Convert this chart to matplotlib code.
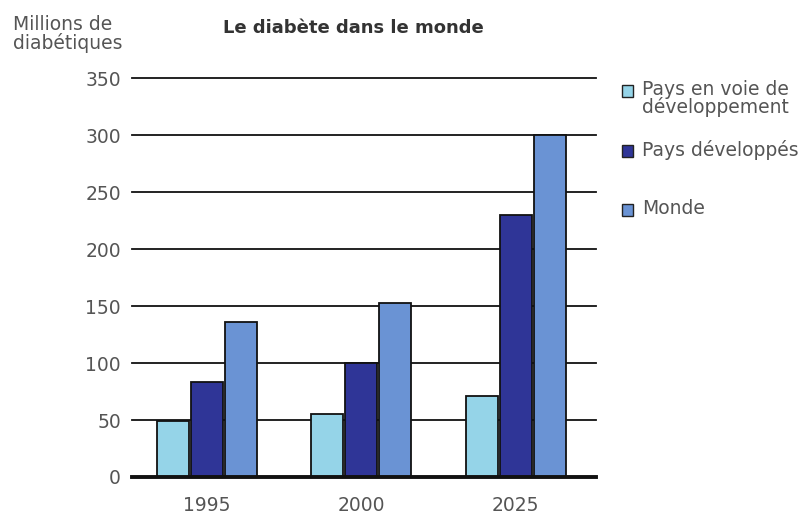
import matplotlib
matplotlib.use("Agg")
import matplotlib.pyplot as plt
import numpy as np
from matplotlib.patches import Rectangle

years = ["1995", "2000", "2025"]
series_names = ["Pays en voie de\ndéveloppement", "Pays développés", "Monde"]
pays_en_voie = [49, 55, 71]
pays_dev = [83, 100, 230]
monde = [136, 153, 300]
yticks = [0, 50, 100, 150, 200, 250, 300, 350]

colors = ["#95d4e8", "#2f3597", "#6a93d4"]
txt = "#555555"
plt.rcParams['font.family'] = ['DejaVu Sans']
fs = 13.5

fig = plt.figure(figsize=(8.04, 5.17), dpi=100)
ax = fig.add_axes([132/804, 1-477/517, (596-132)/804, (477-78)/517])

x = np.arange(len(years))
w = 0.207
step = 0.22
for i, vals in enumerate([pays_en_voie, pays_dev, monde]):
    ax.bar(x + (i-1)*step, vals, width=w, color=colors[i], edgecolor="#111111",
           linewidth=1.3, zorder=3)

for t in yticks[1:]:
    ax.axhline(t, color="#111111", linewidth=1.3, zorder=1, clip_on=False)
ax.axhline(0, color="#111111", linewidth=2.8, zorder=4, clip_on=False)

ax.set_xlim(-0.485, 2.52)
ax.set_ylim(0, 350)
ax.set_yticks(yticks)
ax.set_yticklabels([str(t) for t in yticks], color=txt, fontsize=fs)
ax.set_xticks(x)
ax.set_xticklabels(years, color=txt, fontsize=fs)
ax.tick_params(axis='y', length=0, pad=8)
ax.tick_params(axis='x', length=0, pad=14)
for s in ax.spines.values():
    s.set_visible(False)

fig.text(13/804, 1-34/517, "Millions de\ndiabétiques", color=txt, fontsize=fs,
         ha="left", va="center", linespacing=0.9)
fig.text(353/804, 1-28/517, "Le diabète dans le monde", color="#333333", fontsize=13,
         fontweight="bold", ha="center", va="center")

# legend
sq = 11
leg_y = [91, 151, 210]
for name, c, yc in zip(series_names, colors, leg_y):
    fig.patches.append(Rectangle((622/804, 1-(yc+sq/2)/517), sq/804, sq/517,
                                 transform=fig.transFigure, facecolor=c,
                                 edgecolor="#222222", linewidth=1.0))
    fig.text(642/804, 1-(yc-11)/517, name, color=txt, fontsize=fs, ha="left",
             va="top", linespacing=0.9)

fig.savefig("out.png", dpi=100)
